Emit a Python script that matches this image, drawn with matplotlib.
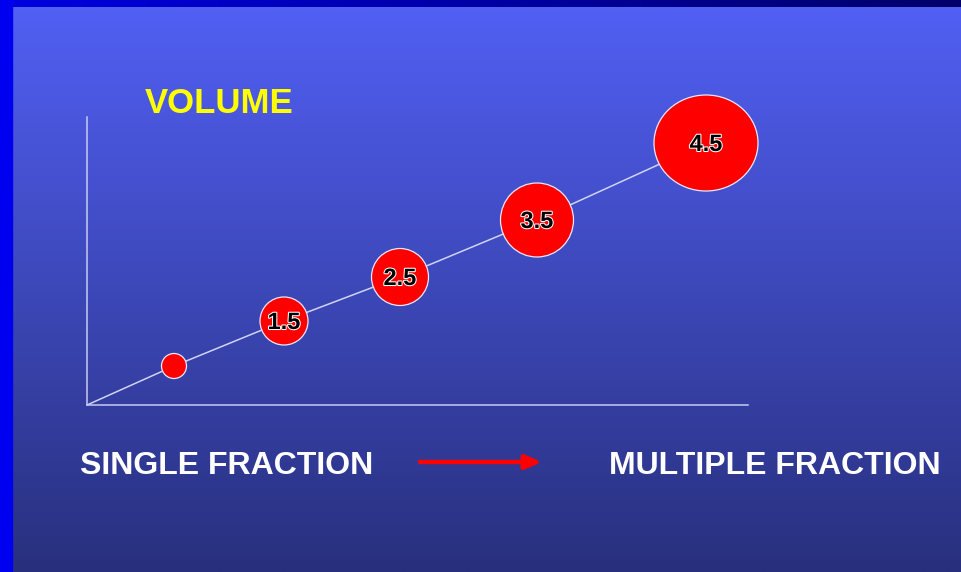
import numpy as np
import matplotlib
matplotlib.use('Agg')
from matplotlib import pyplot as plt
from matplotlib.patches import Ellipse, Rectangle
import matplotlib.patheffects as pe

plt.rcParams['font.family'] = ['Liberation Sans', 'DejaVu Sans']

# bubble data (axis units: 1 unit = 100 px)
x_vals = [0.87, 1.97, 3.13, 4.50, 6.19]
y_vals = [0.39, 0.84, 1.28, 1.85, 2.62]
widths = [0.25, 0.48, 0.57, 0.73, 1.04]
heights = [0.25, 0.48, 0.57, 0.74, 0.96]
labels = ['', '1.5', '2.5', '3.5', '4.5']

W, H = 961, 572
fig = plt.figure(figsize=(W / 100, H / 100), dpi=100)

# background gradient
bg = fig.add_axes([0, 0, 1, 1])
bg.set_axis_off()
t = np.linspace(0, 1, 256)[:, None]
top = np.array([82, 96, 245]) / 255
bot = np.array([40, 48, 125]) / 255
grad = top * (1 - t[..., None]) + bot * t[..., None]
grad = np.repeat(grad, 2, axis=1)
bg.imshow(grad, aspect='auto', extent=[0, W, 0, H], origin='upper')
# top strip (fading blue to navy) and left strip
s = np.linspace(0, 1, 256)[None, :]
strip = np.zeros((1, 256, 3))
strip[..., 2] = (225 - 120 * s) / 255
bg.imshow(strip, aspect='auto', extent=[0, W, H - 7, H], zorder=2)
bg.add_patch(Rectangle((0, 0), 12, H, color='#0000f0', zorder=3))
bg.set_xlim(0, W)
bg.set_ylim(0, H)

# main axes
ox, oy, xe, ye = 87, 405, 748, 117
ax = fig.add_axes([ox / W, 1 - oy / H, (xe - ox) / W, (oy - ye) / H])
ax.set_facecolor('none')
ax.set_xlim(0, (xe - ox) / 100)
ax.set_ylim(0, (oy - ye) / 100)
for sp in ['top', 'right']:
    ax.spines[sp].set_visible(False)
for sp in ['left', 'bottom']:
    ax.spines[sp].set_color('#c8ccf0')
    ax.spines[sp].set_linewidth(1.1)
ax.set_xticks([])
ax.set_yticks([])

ax.plot([0] + x_vals, [0] + y_vals, color='#d0d4f4', lw=1.1, zorder=1)
for x, y, w, h, lab in zip(x_vals, y_vals, widths, heights, labels):
    ax.add_patch(Ellipse((x, y), w, h, facecolor='#ff0000', edgecolor='#e8e8f8',
                         lw=0.9, zorder=2, clip_on=False))
    if lab:
        ax.text(x, y - 0.015, lab, ha='center', va='center', fontsize=17, fontweight='bold',
                color='black', zorder=3,
                path_effects=[pe.withStroke(linewidth=1.5, foreground='white')])

def ftext(x, y, s, **kw):
    fig.text(x / W, 1 - y / H, s, fontweight='bold', va='baseline', **kw)

ftext(145, 113, 'VOLUME', color='#ffff00', fontsize=25)
ftext(80, 474, 'SINGLE FRACTION', color='white', fontsize=23)
ftext(609, 474, 'MULTIPLE FRACTION', color='white', fontsize=23)

ax.annotate('', xy=(542, H - 462), xytext=(420, H - 462),
            xycoords='figure pixels', textcoords='figure pixels',
            arrowprops=dict(arrowstyle='-|>,head_length=0.7,head_width=0.3',
                            color='#ff0000', lw=3.2, mutation_scale=14,
                            shrinkA=0, shrinkB=0))

fig.savefig('out.png', dpi=100)
